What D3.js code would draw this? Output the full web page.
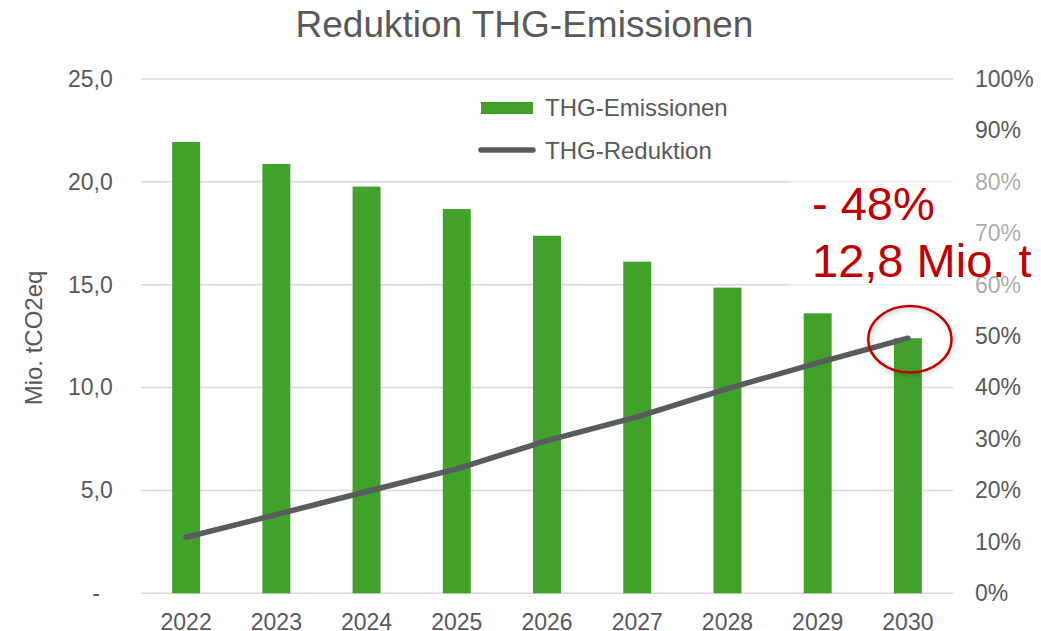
<!DOCTYPE html>
<html><head><meta charset="utf-8">
<script src="https://cdn.jsdelivr.net/npm/d3@7"></script>
<style>
body{margin:0;background:#fff}
svg{display:block}
text{font-family:"Liberation Sans",Arial,sans-serif}
</style>
</head><body>
<svg id="c" width="1041" height="631"></svg>
<script>
// ---- data ----
const years = ["2022","2023","2024","2025","2026","2027","2028","2029","2030"];
const emissions = [21.94, 20.87, 19.77, 18.68, 17.38, 16.12, 14.86, 13.61, 12.40]; // Mio. tCO2eq
const reduction = [0.109, 0.153, 0.198, 0.242, 0.297, 0.343, 0.398, 0.448, 0.496]; // share
const leftTicks = [0, 5, 10, 15, 20, 25];
const rightTicks = [0, 0.1, 0.2, 0.3, 0.4, 0.5, 0.6, 0.7, 0.8, 0.9, 1.0];
const titleText = "Reduktion THG-Emissionen";
const yTitle = "Mio. tCO2eq";
const seriesNames = ["THG-Emissionen", "THG-Reduktion"];
const annotation = ["- 48%", "12,8 Mio. t"];

// ---- layout ----
const svg = d3.select("#c");
const L = 141, R = 953, T = 79, B = 593.3;
const green = "#41a22b", lineCol = "#575c5c", txt = "#595959", grid = "#d9d9d9", red = "#c00000";

const x = d3.scaleBand().domain(years).range([L, R]).paddingInner(0.69).paddingOuter(0.345);
const yL = d3.scaleLinear().domain([0, 25]).range([B, T]);
const yR = d3.scaleLinear().domain([0, 1]).range([B, T]);

const defs = svg.append("defs");
const f = defs.append("filter").attr("id","sh").attr("x","-30%").attr("y","-30%").attr("width","160%").attr("height","160%");
f.append("feDropShadow").attr("dx",1).attr("dy",2).attr("stdDeviation",2).attr("flood-color","#000").attr("flood-opacity",0.25);

// title
svg.append("text").attr("x", 524.5).attr("y", 37).attr("text-anchor","middle")
  .attr("font-size", 37).attr("fill", txt).text(titleText);

// gridlines
svg.append("g").selectAll("line").data(leftTicks).join("line")
  .attr("x1", L).attr("x2", R).attr("y1", d => yL(d)).attr("y2", d => yL(d))
  .attr("stroke", grid).attr("stroke-width", 1.5);

// left axis
const gl = svg.append("g").attr("transform", `translate(${L},0)`)
  .call(d3.axisLeft(yL).tickValues(leftTicks).tickSize(0).tickPadding(28.3)
    .tickFormat(d => d === 0 ? "-" : d3.format(".1f")(d).replace(".", ",")));
gl.select(".domain").remove();
gl.selectAll("text").attr("font-size", 23).attr("fill", txt).style("font-family", '"Liberation Sans",Arial,sans-serif');
gl.selectAll(".tick").filter(d => d === 0).select("text").attr("x", -41);

// right axis
const gr = svg.append("g").attr("transform", `translate(${R},0)`)
  .call(d3.axisRight(yR).tickValues(rightTicks).tickSize(0).tickPadding(22).tickFormat(d3.format(".0%")));
gr.select(".domain").remove();
gr.selectAll("text").attr("font-size", 23).attr("fill", txt).style("font-family", '"Liberation Sans",Arial,sans-serif');

// bottom axis
const gb = svg.append("g").attr("transform", `translate(0,${B})`)
  .call(d3.axisBottom(x).tickSize(0).tickPadding(20));
gb.select(".domain").remove();
gb.selectAll("text").attr("font-size", 23).attr("fill", txt).style("font-family", '"Liberation Sans",Arial,sans-serif');

// y title
svg.append("text").attr("transform", `translate(42,338) rotate(-90)`).attr("text-anchor","middle")
  .attr("font-size", 24).attr("fill", txt).text(yTitle);

// bars
svg.append("g").selectAll("rect").data(years).join("rect")
  .attr("x", d => x(d)).attr("width", x.bandwidth())
  .attr("y", (d,i) => yL(emissions[i])).attr("height", (d,i) => B - yL(emissions[i]))
  .attr("fill", green);

// line
const line = d3.line().x((d,i) => x(years[i]) + x.bandwidth()/2).y(d => yR(d));
svg.append("path").datum(reduction).attr("d", line)
  .attr("fill","none").attr("stroke", lineCol).attr("stroke-width", 5.5)
  .attr("stroke-linecap","round").attr("stroke-linejoin","round");

// legend
svg.append("rect").attr("x", 481).attr("y", 102).attr("width", 52).attr("height", 12).attr("fill", green);
svg.append("line").attr("x1", 481).attr("x2", 533).attr("y1", 150).attr("y2", 150)
  .attr("stroke", lineCol).attr("stroke-width", 5.5).attr("stroke-linecap","round");
svg.append("text").attr("x", 545).attr("y", 108).attr("dy","0.35em").attr("font-size", 24).attr("fill", txt).text(seriesNames[0]);
svg.append("text").attr("x", 545).attr("y", 151).attr("dy","0.35em").attr("font-size", 24).attr("fill", txt).text(seriesNames[1]);

// annotation box (semi-transparent white)
svg.append("rect").attr("x", 790).attr("y", 160).attr("width", 260).attr("height", 138)
  .attr("fill", "#fff").attr("fill-opacity", 0.5);
svg.append("text").attr("x", 812).attr("y", 220).attr("font-size", 47).attr("fill", red).text(annotation[0]);
svg.append("text").attr("x", 812).attr("y", 276.7).attr("font-size", 47).attr("fill", red).text(annotation[1]);

// highlight ellipse around last point
const lx = x(years[years.length-1]) + x.bandwidth()/2;
svg.append("ellipse").attr("cx", lx + 2).attr("cy", yR(reduction[reduction.length-1]) + 1)
  .attr("rx", 41.7).attr("ry", 33.3).attr("fill","none").attr("stroke", red).attr("stroke-width", 2.5)
  .attr("filter","url(#sh)");
</script>
</body></html>
